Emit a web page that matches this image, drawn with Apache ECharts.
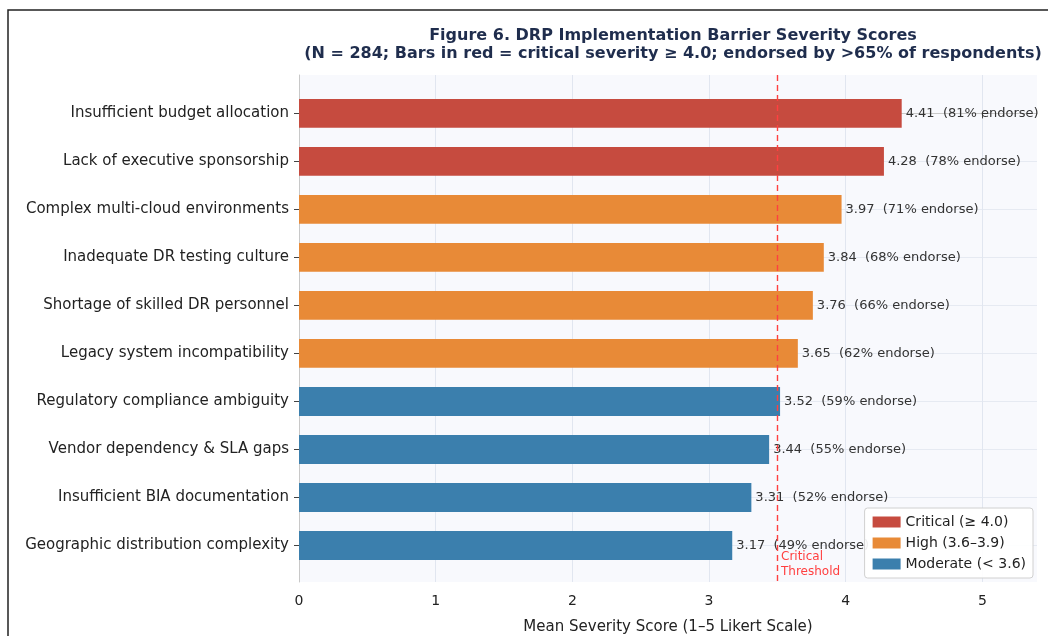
<!DOCTYPE html>
<html>
<head>
<meta charset="utf-8">
<script src="https://cdn.jsdelivr.net/npm/echarts@6/dist/echarts.min.js"></script>
<style>
  html, body { margin: 0; padding: 0; background: #fff; }
  #main { width: 1048px; height: 636px; }
</style>
</head>
<body>
<div id="main"></div>
<script>
// barriers, top to bottom
var categories = [
  'Insufficient budget allocation',
  'Lack of executive sponsorship',
  'Complex multi-cloud environments',
  'Inadequate DR testing culture',
  'Shortage of skilled DR personnel',
  'Legacy system incompatibility',
  'Regulatory compliance ambiguity',
  'Vendor dependency & SLA gaps',
  'Insufficient BIA documentation',
  'Geographic distribution complexity'
];
var scores = [4.41, 4.28, 3.97, 3.84, 3.76, 3.65, 3.52, 3.44, 3.31, 3.17];
var endorse = [81, 78, 71, 68, 66, 62, 59, 55, 52, 49];
var xTicks = [0, 1, 2, 3, 4, 5];
var threshold = 3.5;

var tiers = [
  { name: 'Critical (\u2265 4.0)', color: '#c64b3f', test: function (v) { return v >= 4.0; } },
  { name: 'High (3.6\u20133.9)', color: '#e88a37', test: function (v) { return v >= 3.6 && v < 4.0; } },
  { name: 'Moderate (< 3.6)', color: '#3b7fad', test: function (v) { return v < 3.6; } }
];

var font = 'DejaVu Sans';
var rowIdx = categories.map(function (c, i) { return i; });

function renderBar(params, api) {
  var y = api.value(1);
  var start = api.coord([0, y]);
  var end = api.coord([api.value(0), y]);
  var h = api.size([0, 1])[1] * 0.6;
  return {
    type: 'rect',
    shape: { x: start[0], y: start[1] - h / 2, width: end[0] - start[0], height: h },
    style: api.style(),
    textContent: {
      style: {
        text: api.value(0).toFixed(2) + '  (' + api.value(2) + '% endorse)',
        fill: '#333',
        fontSize: 13,
        fontFamily: font
      }
    },
    textConfig: { position: 'right', distance: 4 }
  };
}

var series = tiers.map(function (t) {
  var data = [];
  scores.forEach(function (v, i) {
    if (t.test(v)) data.push([v, i, endorse[i]]);
  });
  return {
    name: t.name,
    type: 'custom',
    renderItem: renderBar,
    encode: { x: 0, y: 1 },
    itemStyle: { color: t.color },
    data: data,
    z: 3
  };
});

series.push({
  type: 'line',
  data: [],
  markLine: {
    silent: true,
    symbol: 'none',
    label: { show: false },
    lineStyle: { color: '#ff4040', type: [6, 4], width: 1.4 },
    data: [{ xAxis: threshold }]
  },
  z: 4
});

var chart = echarts.init(document.getElementById('main'));
chart.setOption({
  animation: false,
  backgroundColor: '#fff',
  title: {
    text: 'Figure 6. DRP Implementation Barrier Severity Scores\n(N = 284; Bars in red = critical severity \u2265 4.0; endorsed by >65% of respondents)',
    left: 668,
    top: 22,
    textAlign: 'center',
    textStyle: { fontFamily: font, fontSize: 16, fontWeight: 'bold', color: '#1f2d4d', lineHeight: 18 }
  },
  legend: {
    orient: 'vertical',
    right: 15,
    top: 508,
    itemWidth: 28,
    itemHeight: 11,
    itemGap: 7,
    padding: [7, 7, 7, 8],
    icon: 'rect',
    backgroundColor: 'rgba(255,255,255,0.92)',
    borderColor: '#d0d0d0',
    borderWidth: 1,
    borderRadius: 3,
    textStyle: { fontFamily: font, fontSize: 14, color: '#222' },
    data: tiers.map(function (t) { return t.name; }),
    z: 10
  },
  grid: {
    left: 299, right: 11, top: 75, bottom: 54,
    outerBoundsMode: 'none',
    show: true, backgroundColor: '#f8f9fd', borderWidth: 0
  },
  xAxis: {
    type: 'value',
    min: 0,
    max: 5.4,
    name: 'Mean Severity Score (1\u20135 Likert Scale)',
    nameLocation: 'middle',
    nameGap: 38,
    nameTextStyle: { fontFamily: font, fontSize: 15, color: '#222' },
    axisLine: { show: true, lineStyle: { color: '#c8c8c8' } },
    axisTick: { show: true, customValues: xTicks, length: 5, lineStyle: { color: '#444' } },
    axisLabel: { customValues: xTicks, fontFamily: font, fontSize: 14, color: '#222', margin: 12 },
    splitLine: { show: true, lineStyle: { color: '#e1e6f0', width: 1 } }
  },
  yAxis: {
    type: 'value',
    inverse: true,
    min: -0.8,
    max: 9.76,
    axisLine: { show: true, lineStyle: { color: '#c8c8c8' } },
    axisTick: { show: true, customValues: rowIdx, length: 5, lineStyle: { color: '#444' } },
    axisLabel: {
      customValues: rowIdx,
      formatter: function (v) { return categories[Math.round(v)]; },
      fontFamily: font, fontSize: 15, color: '#222', margin: 10
    },
    splitLine: { show: true, lineStyle: { color: '#e6eaf2', width: 1 } }
  },
  graphic: [
    {
      type: 'rect',
      shape: { x: 8, y: 10, width: 1200, height: 800 },
      style: { fill: null, stroke: '#222', lineWidth: 1.5 },
      silent: true,
      z: 100
    },
    {
      type: 'text',
      left: 781,
      top: 549,
      style: {
        text: 'Critical\nThreshold',
        fill: '#ff4040',
        fontFamily: font,
        fontSize: 12,
        lineHeight: 15
      },
      z: 5
    }
  ],
  series: series
});
window.onresize = function () { chart.resize(); };
</script>
</body>
</html>
